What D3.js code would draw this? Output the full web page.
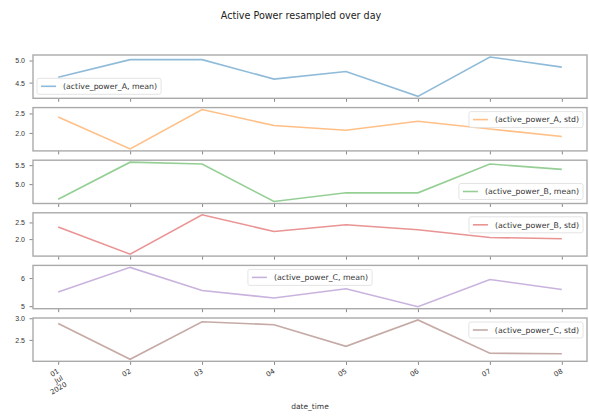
<!DOCTYPE html>
<html>
<head>
<meta charset="utf-8">
<script src="https://cdn.jsdelivr.net/npm/d3@7/dist/d3.min.js"></script>
<style>
  body { margin: 0; background: #fff; }
  svg { font-family: "DejaVu Sans", sans-serif; }
  .tick text { fill: #333; font-size: 7px; }
  .tick line { stroke: #888; }
  .domain { display: none; }
</style>
</head>
<body>
<svg id="chart" width="589" height="416"></svg>
<script>
// days of the resample
const days = ["2020-07-01", "2020-07-02", "2020-07-03", "2020-07-04",
              "2020-07-05", "2020-07-06", "2020-07-07", "2020-07-08"];
const dayLabels = ["01\nJul\n2020", "02", "03", "04", "05", "06", "07", "08"];

const seriesNames = ["(active_power_A, mean)", "(active_power_A, std)",
                     "(active_power_B, mean)", "(active_power_B, std)",
                     "(active_power_C, mean)", "(active_power_C, std)"];

const aMean = [4.62, 5.02, 5.02, 4.58, 4.75, 4.19, 5.08, 4.85];
const aStd  = [2.41, 1.59, 2.60, 2.19, 2.07, 2.30, 2.10, 1.91];
const bMean = [4.60, 5.58, 5.53, 4.54, 4.77, 4.77, 5.53, 5.39];
const bStd  = [2.36, 1.55, 2.73, 2.23, 2.43, 2.28, 2.05, 2.01];
const cMean = [5.50, 6.38, 5.56, 5.29, 5.62, 4.98, 5.95, 5.59];
const cStd  = [2.88, 2.05, 2.92, 2.85, 2.35, 2.96, 2.19, 2.18];
const seriesValues = [aMean, aStd, bMean, bStd, cMean, cStd];

const yTicks = [[4.5, 5.0], [2.0, 2.5], [5.0, 5.5], [2.0, 2.5], [5, 6], [2.5, 3.0]];
const yTickFmt = [".1f", ".1f", ".1f", ".1f", "d", ".1f"];

const colors = ["#1f77b4", "#ff7f0e", "#2ca02c", "#d62728", "#9467bd", "#8c564b"];
const legendLoc = ["lower left", "upper right", "lower right", "upper right", "upper center", "upper right"];

const parse = d3.timeParse("%Y-%m-%d");
const dates = days.map(parse);

const svg = d3.select("#chart");
const left = 33, right = 587;
const top0 = 55, step = 52.6, panelH = 43.3;

// matplotlib-like 5% margins on x
const span = dates[dates.length - 1] - dates[0];
const x = d3.scaleTime()
    .domain([new Date(+dates[0] - span * 0.05), new Date(+dates[dates.length - 1] + span * 0.05)])
    .range([left, right]);

svg.append("text")
    .attr("x", 301).attr("y", 19)
    .attr("text-anchor", "middle")
    .attr("font-size", 9.6)
    .attr("fill", "#222")
    .text("Active Power resampled over day");

seriesValues.forEach((vals, i) => {
    const top = top0 + i * step;
    const lo = d3.min(vals), hi = d3.max(vals), pad = (hi - lo) * 0.05;
    const y = d3.scaleLinear().domain([lo - pad, hi + pad]).range([top + panelH, top]);

    const g = svg.append("g").attr("class", "panel");

    // x ticks (labels only on the last panel)
    const xAxis = d3.axisBottom(x).tickValues(dates).tickSize(3.5).tickFormat("");
    g.append("g")
        .attr("transform", `translate(0,${top + panelH})`)
        .call(xAxis);

    const yAxis = d3.axisLeft(y).tickValues(yTicks[i]).tickSize(3.5).tickPadding(4.5)
        .tickFormat(d3.format(yTickFmt[i]));
    g.append("g")
        .attr("transform", `translate(${left},0)`)
        .call(yAxis)
        .selectAll("text").attr("dy", "0.35em");

    g.append("path")
        .datum(vals)
        .attr("fill", "none")
        .attr("stroke", colors[i])
        .attr("stroke-opacity", 0.5)
        .attr("stroke-width", 1.6)
        .attr("d", d3.line().x((d, k) => x(dates[k])).y(d => y(d)));

    g.append("rect")
        .attr("x", left).attr("y", top)
        .attr("width", right - left).attr("height", panelH)
        .attr("fill", "none")
        .attr("stroke", "#aaa")
        .attr("stroke-width", 1.4);

    // legend
    const lg = g.append("g");
    const box = lg.append("rect")
        .attr("rx", 2)
        .attr("fill", "#fff").attr("fill-opacity", 0.8)
        .attr("stroke", "#ddd").attr("stroke-width", 0.8);
    lg.append("line")
        .attr("x1", 4).attr("x2", 19).attr("y1", 8).attr("y2", 8)
        .attr("stroke", colors[i]).attr("stroke-opacity", 0.5).attr("stroke-width", 1.6);
    const t = lg.append("text")
        .attr("x", 26).attr("y", 8).attr("dy", "0.35em")
        .attr("font-size", 7.8).attr("fill", "#333")
        .text(seriesNames[i]);
    const w = t.node().getComputedTextLength() + 30, h = 16;
    box.attr("width", w).attr("height", h);
    const loc = legendLoc[i];
    let lx, ly;
    if (loc.endsWith("left")) lx = left + 4;
    else if (loc.endsWith("right")) lx = right - 4 - w;
    else lx = (left + right) / 2 - w / 2;
    ly = loc.startsWith("upper") ? top + 4 : top + panelH - 4 - h;
    lg.attr("transform", `translate(${lx},${ly})`);

    if (i === seriesValues.length - 1) {
        const lab = g.append("g");
        dates.forEach((d, k) => {
            const lines = dayLabels[k].split("\n");
            const tx = lab.append("text")
                .attr("transform", `translate(${x(d) - 1},${top + panelH + 7}) rotate(-30)`)
                .attr("text-anchor", "end")
                .attr("font-size", 7)
                .attr("fill", "#333");
            lines.forEach((s, j) => {
                tx.append("tspan").attr("x", 0).attr("dy", j === 0 ? "0.7em" : "1.1em").text(s);
            });
        });
        g.append("text")
            .attr("x", (left + right) / 2).attr("y", 409)
            .attr("text-anchor", "middle")
            .attr("font-size", 7.5)
            .attr("fill", "#333")
            .text("date_time");
    }
});
</script>
</body>
</html>
